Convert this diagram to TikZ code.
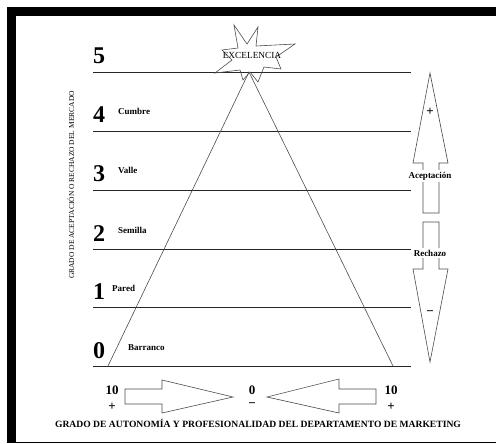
\documentclass[tikz,border=0pt]{standalone}
\usepackage{fontspec}
\setmainfont{Liberation Serif}
\usetikzlibrary{positioning}

\begin{document}
\begin{tikzpicture}[x=1pt, y=-1pt,
  level/.style={draw=black!85, line width=0.8pt},
  side/.style={draw=black!70, line width=0.6pt},
  num/.style={font=\fontsize{24}{24}\selectfont\bfseries, inner sep=0pt, anchor=base west},
  tag/.style={font=\fontsize{9}{9}\selectfont\bfseries, inner sep=0pt, anchor=base west},
  boxarrow/.style={draw=black!70, line width=0.6pt, line join=miter},
  cut/.style={font=\fontsize{9}{9}\selectfont\bfseries, inner sep=1.5pt, fill=white},
  sign/.style={font=\fontsize{13}{13}\selectfont\bfseries, inner sep=0pt}]
  \useasboundingbox (0,0) rectangle (496,444);
  % frame
  \fill (7,7) rectangle (496,16);
  \fill (7,7) rectangle (16,443);
  \draw[line width=1.2pt] (7,442.5) -- (496,442.5);

  % levels
  \foreach \k/\y in {5/72, 4/131, 3/190, 2/249, 1/307, 0/366} {
    \draw[level] (93,\y) -- (411,\y);
    \node[num] (n\k) at (93,\y-8) {\k};
  }
  \node[tag] (cumbre) at (118,114) {Cumbre};
  \node[tag] (valle) at (118,174) {Valle};
  \node[tag] (semilla) at (118,233) {Semilla};
  \node[tag] (pared) at (112,291) {Pared};
  \node[tag] (barranco) at (128,350) {Barranco};

  % pyramid
  \coordinate (apex) at (249,72);
  \coordinate (bl) at (108,366);
  \coordinate (br) at (393,366);
  \draw[side] (bl) -- (apex) -- (br);
  \draw[side] (234,25) -- (247,44) -- (258,27) -- (256,46) -- (295,44)
    -- (276,57) -- (281,69) -- (264,67) -- (258,82) -- (250,72) -- (243,80)
    -- (240,70) -- (215,73) -- (232,60) -- (222,50) -- (238,48) -- cycle;
  \node[font=\fontsize{9.3}{9}\selectfont, inner sep=0pt] (top) at (252,55) {EXCELENCIA};

  \node[rotate=90, font=\fontsize{7.5}{8}\selectfont, inner sep=0pt] (vtitle) at (71,185)
    {GRADO DE ACEPTACIÓN O RECHAZO DEL MERCADO};

  % market arrows
  \draw[boxarrow] (430,73) -- (448,163) -- (439,163) -- (439,213) -- (423,213)
    -- (423,163) -- (413,163) -- cycle;
  \node[cut] (acep) at (430,176) {Aceptación};
  \node[sign] (up) at (430,112) {+};
  \draw[boxarrow] (423,222) -- (439,222) -- (439,269) -- (448,269) -- (430,362)
    -- (413,269) -- (423,269) -- cycle;
  \node[cut] (rech) at (430,253) {Rechazo};
  \node[sign] (down) at (430,313) {\textminus};

  % autonomy arrows
  \draw[boxarrow] (125,389) -- (162,389) -- (162,380) -- (233,397) -- (162,413)
    -- (162,404) -- (125,404) -- cycle;
  \draw[boxarrow] (376,389) -- (339,389) -- (339,379) -- (267,397) -- (339,413)
    -- (339,404) -- (376,404) -- cycle;
  \node[sign] (tenl) at (112,390) {10};
  \node[sign] (zero) at (252,390) {0};
  \node[sign] (tenr) at (391,390) {10};
  \node[sign, below=8pt of tenl] (pl) {+};
  \node[sign, below=8pt of zero] (mi) {\textminus};
  \node[sign, below=8pt of tenr] (pr) {+};
  \node[font=\fontsize{9.6}{10}\selectfont\bfseries, inner sep=0pt] (btitle) at (258,423)
    {GRADO DE AUTONOMÍA Y PROFESIONALIDAD DEL DEPARTAMENTO DE MARKETING};
\end{tikzpicture}
\end{document}
